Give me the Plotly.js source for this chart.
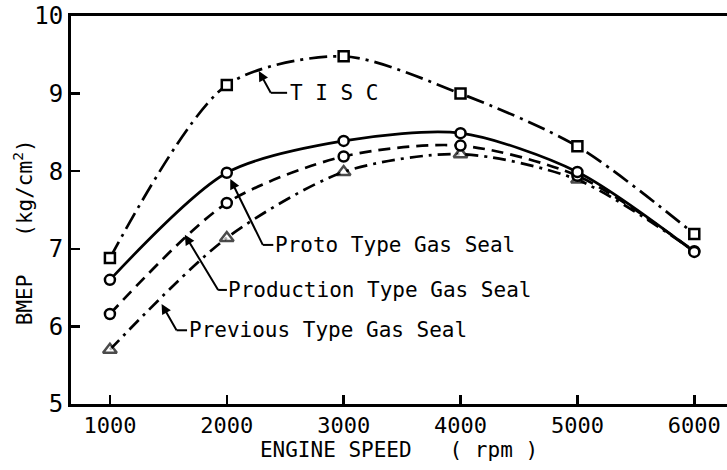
<!DOCTYPE html>
<html>
<head>
<meta charset="utf-8">
<script src="https://cdn.plot.ly/plotly-3.0.1.min.js"></script>
<style>
  html, body { margin: 0; padding: 0; background: #fff; }
  #chart { width: 727px; height: 470px; }
</style>
</head>
<body>
<div id="chart"></div>
<script>
// Engine speed (rpm)
const speed = [1000, 2000, 3000, 4000, 5000, 6000];
// BMEP (kg/cm2) per seal type
const tisc       = [6.88, 9.11, 9.48, 9.00, 8.32, 7.19];
const proto      = [6.60, 7.98, 8.39, 8.49, 7.99, 6.96];
const production = [6.16, 7.59, 8.19, 8.33, 7.94, 6.97];
const previous   = [5.70, 7.14, 7.99, 8.22, 7.89, 6.97];
const tickLabels = ['1000', '2000', '3000', '4000', '5000', '6000'];
const yTicks = [5, 6, 7, 8, 9, 10];

const FONT = 'DejaVu Sans Mono, Liberation Mono, monospace';
const black = '#000';

function series(name, y, dash, symbol, size, sizes) {
  return {
    type: 'scatter', mode: 'lines+markers', name: name,
    x: speed, y: y,
    line: { color: black, width: 2.7, dash: dash, shape: 'spline', smoothing: 0.8 },
    marker: { symbol: symbol, size: sizes || size, color: '#fff', line: { color: black, width: 2.5 } },
    cliponaxis: false
  };
}

const data = [
  series('TISC', tisc, '18px,6px,3px,6px', 'square', 10),
  series('Previous Type Gas Seal', previous, '13px,6px,3px,6px', 'triangle-up', 12, [12, 12, 12, 12, 11, 0]),
  series('Production Type Gas Seal', production, '12px,7px', 'circle', 10),
  series('Proto Type Gas Seal', proto, 'solid', 'circle', 10)
];

const labels = [
  { text: 'T I S C', head: [2274, 9.29], elbow: [2376, 9.01], pad: 19, lead: 140 },
  { text: 'Proto Type Gas Seal', head: [2030, 7.90], elbow: [2308, 7.05], pad: 12, lead: 90 },
  { text: 'Production Type Gas Seal', head: [1641, 7.18], elbow: [1926, 6.47], pad: 10, lead: 75 },
  { text: 'Previous Type Gas Seal', head: [1442, 6.29], elbow: [1570, 5.95], pad: 12, lead: 90 }
];

const annotations = labels.map(l => ({
  x: l.head[0], y: l.head[1], xref: 'x', yref: 'y',
  ax: l.elbow[0], ay: l.elbow[1], axref: 'x', ayref: 'y',
  text: l.text, xanchor: 'left', yanchor: 'middle', borderpad: l.pad, borderwidth: 0,
  showarrow: true, arrowhead: 2, arrowsize: 1, arrowwidth: 2, arrowcolor: black,
  font: { family: FONT, size: 21, color: black }
}));
annotations.push({
  xref: 'paper', yref: 'paper', x: -0.073, y: 0.443,
  text: 'BMEP   (kg/cm<sup>2</sup>)', textangle: -90, showarrow: false,
  xanchor: 'center', yanchor: 'middle',
  font: { family: FONT, size: 21, color: black }
});

const shapes = labels.map(l => ({
  type: 'line', xref: 'x', yref: 'y',
  x0: l.elbow[0], y0: l.elbow[1], x1: l.elbow[0] + l.lead, y1: l.elbow[1],
  line: { color: black, width: 2 }
}));

const layout = {
  width: 727, height: 470,
  margin: { l: 71, r: 0, t: 16, b: 66 },
  paper_bgcolor: '#fff', plot_bgcolor: '#fff',
  showlegend: false,
  font: { family: FONT, color: black },
  xaxis: {
    range: [667, 6280], tickvals: speed, ticktext: tickLabels,
    ticks: 'inside', ticklen: 9, tickwidth: 2.5, tickcolor: black,
    showline: true, linewidth: 3, linecolor: black, mirror: true,
    showgrid: false, zeroline: false,
    tickfont: { family: FONT, size: 22, color: black },
    title: { text: 'ENGINE SPEED   ( rpm )', font: { family: FONT, size: 21, color: black }, standoff: 4 }
  },
  yaxis: {
    range: [5, 10], tickvals: yTicks,
    ticks: 'inside', ticklen: 9, tickwidth: 2.5, tickcolor: black,
    showline: true, linewidth: 3, linecolor: black,
    showgrid: false, zeroline: false,
    tickfont: { family: FONT, size: 24, color: black }
  },
  annotations: annotations,
  shapes: shapes
};

Plotly.newPlot('chart', data, layout, { displayModeBar: false, staticPlot: true });
</script>
</body>
</html>
